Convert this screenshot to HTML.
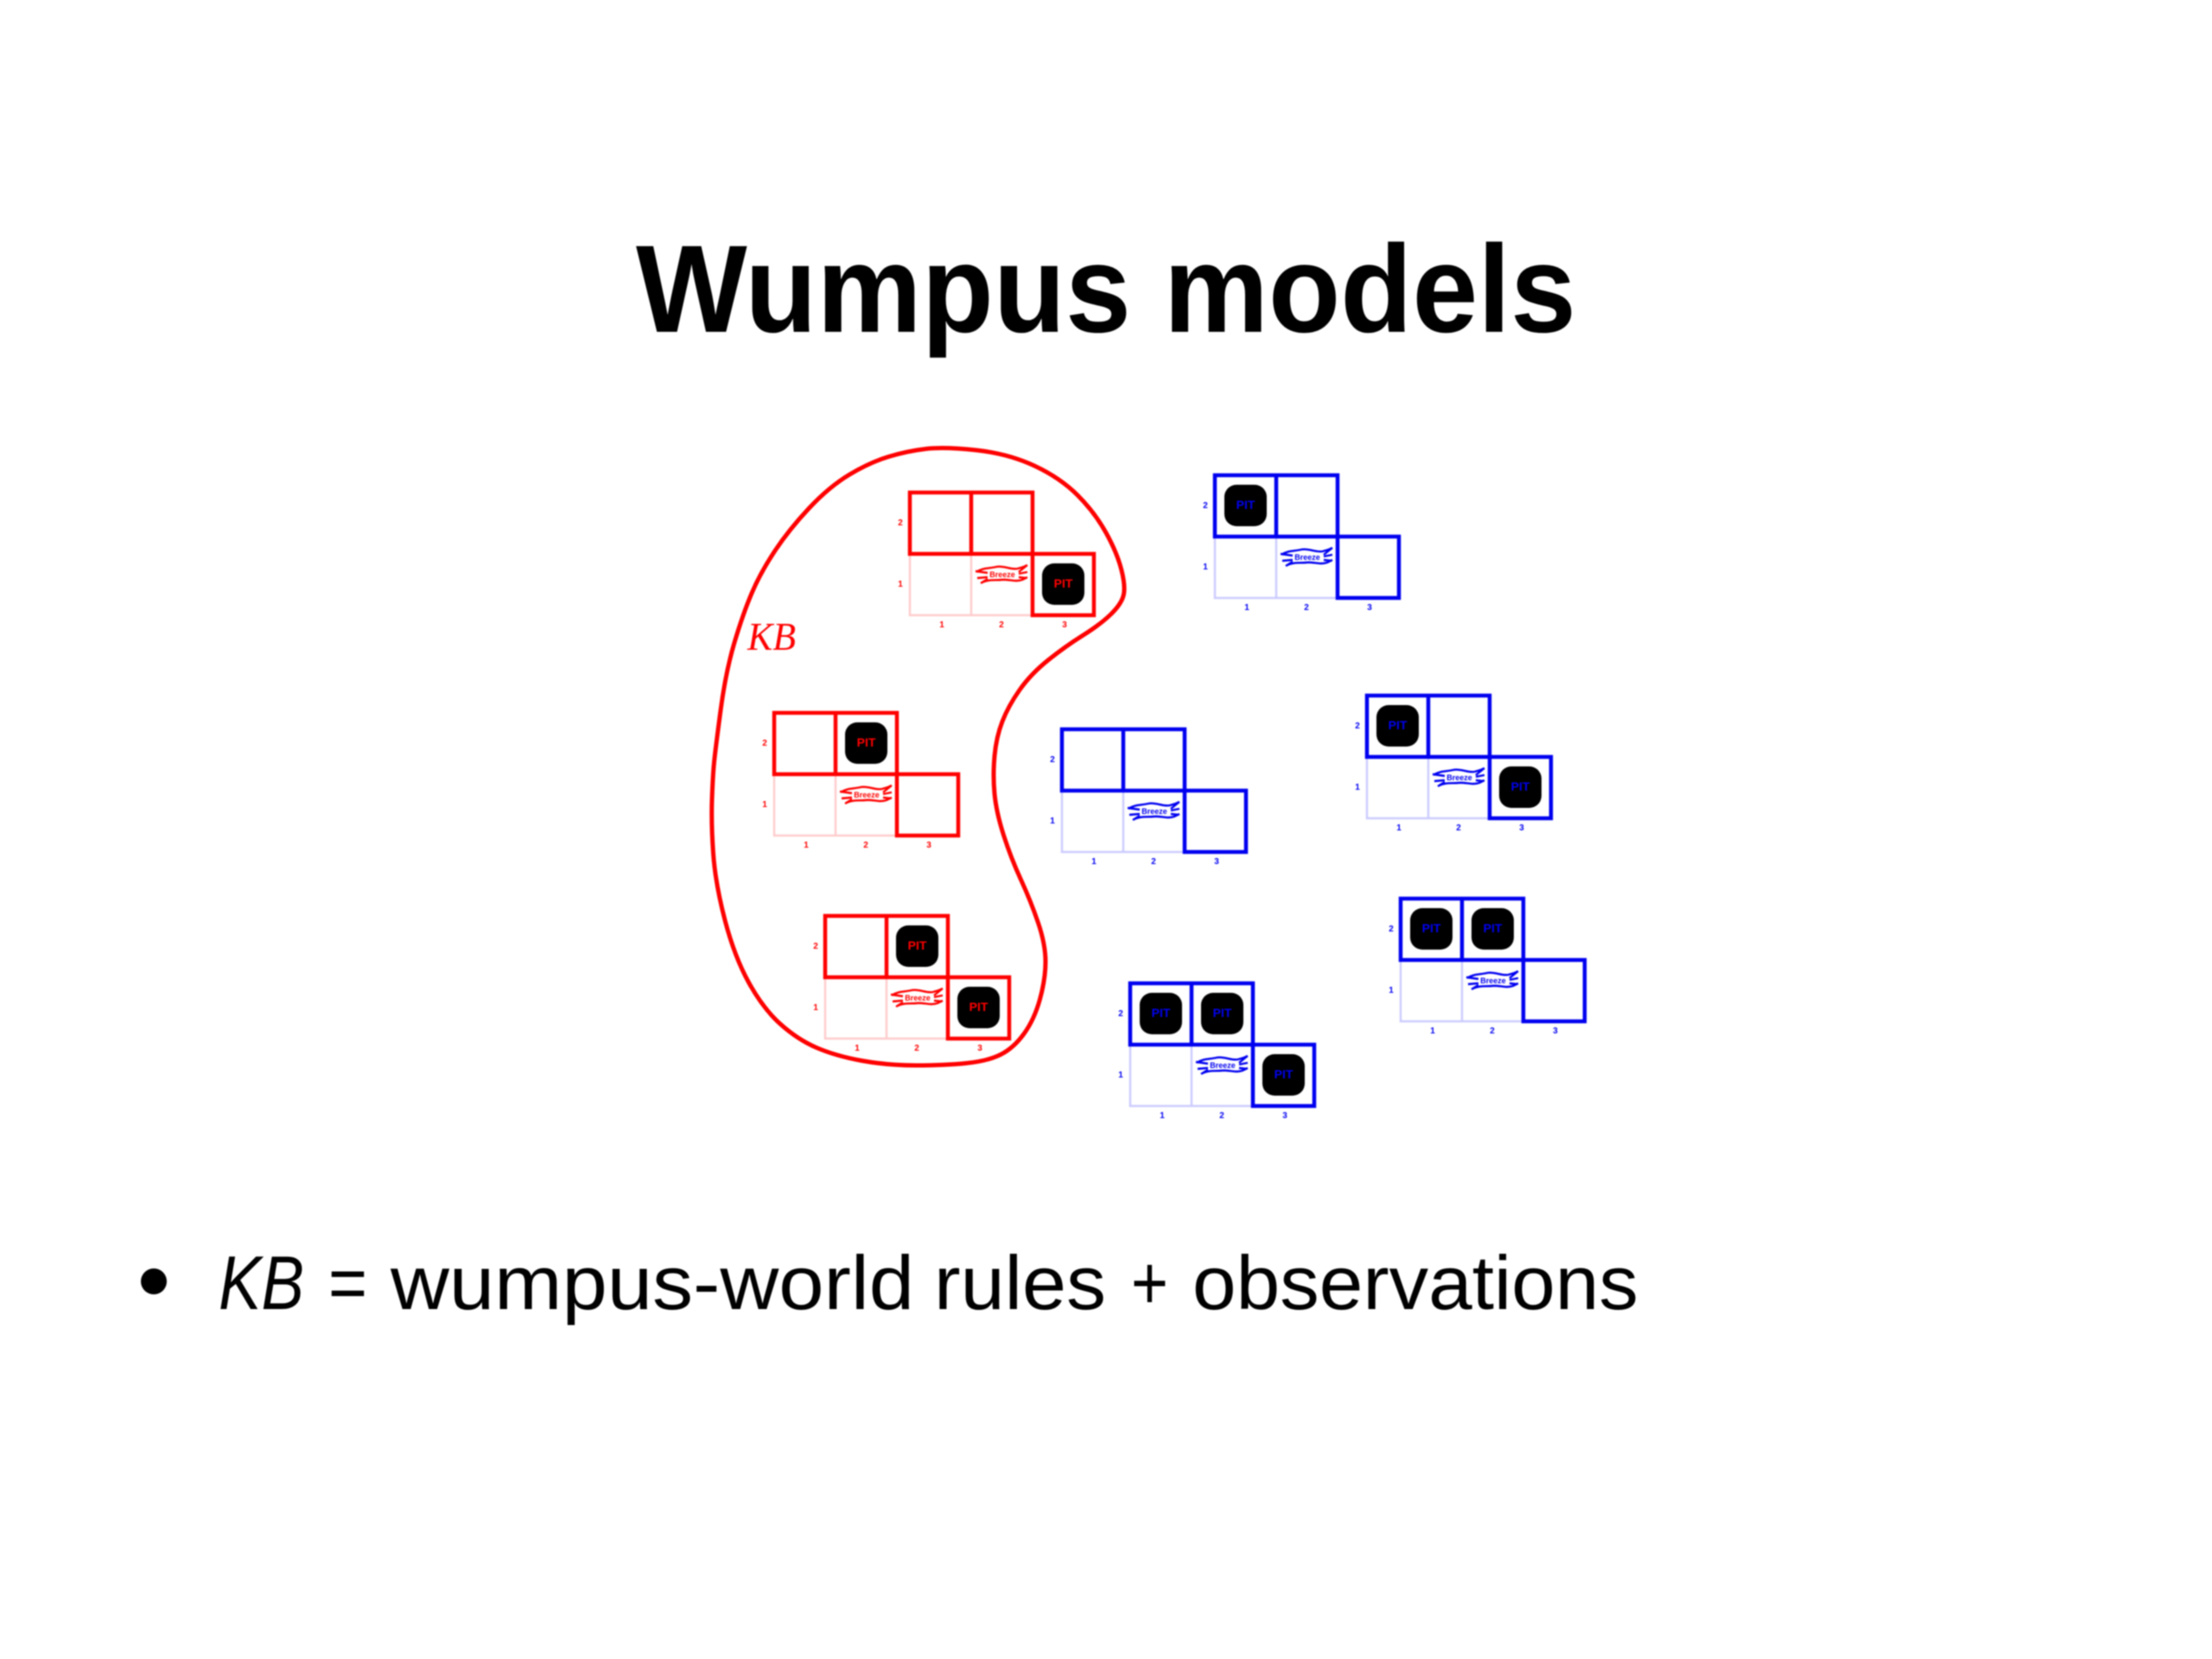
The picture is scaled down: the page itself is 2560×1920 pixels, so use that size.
<!DOCTYPE html>
<html><head><meta charset="utf-8"><style>
html,body{margin:0;padding:0;background:#fff}
svg{display:block;filter:blur(.8px)}
.r{color:#f00;--p:#fcc}
.b{color:#0000f0;--p:#ccf}
.thin{fill:none;stroke:var(--p);stroke-width:2.5}
.bold{fill:none;stroke:currentColor;stroke-width:4.5}
.pit{fill:#000;stroke:none}
.pt{fill:currentColor;font:bold 14px "Liberation Sans",sans-serif;text-anchor:middle}
.lb{fill:currentColor;font:bold 10px "Liberation Sans",sans-serif;text-anchor:middle}
.br{fill:none;stroke:currentColor;stroke-width:2.4}
.bt{fill:currentColor;font:bold 9px "Liberation Sans",sans-serif;text-anchor:middle}
.bu{font:88px "Liberation Sans",sans-serif;fill:#000}
</style></head><body>
<svg width="2560" height="1920" viewBox="0 0 2560 1920" xmlns="http://www.w3.org/2000/svg">
<rect width="2560" height="1920" fill="#fff"/>
<text x="736" y="384" textLength="1088" lengthAdjust="spacingAndGlyphs" style="font:bold 144px 'Liberation Sans',sans-serif" fill="#000">Wumpus models</text>
<circle cx="178" cy="1483" r="15" fill="#000"/>
<text x="253" y="1515" textLength="99" lengthAdjust="spacingAndGlyphs" style="font:italic 88px 'Liberation Sans',sans-serif" fill="#000">KB</text>
<text class="bu" x="380" y="1515" textLength="45" lengthAdjust="spacingAndGlyphs">=</text>
<text class="bu" x="452" y="1515" textLength="606" lengthAdjust="spacingAndGlyphs">wumpus-world</text>
<text class="bu" x="1081" y="1515" textLength="199" lengthAdjust="spacingAndGlyphs">rules</text>
<text class="bu" x="1309" y="1515" textLength="43" lengthAdjust="spacingAndGlyphs">+</text>
<text class="bu" x="1380" y="1515" textLength="516" lengthAdjust="spacingAndGlyphs">observations</text>
<path fill="none" stroke="#f00" stroke-width="5" d="M1071.500 519.500Q1093 517 1130 521Q1167 525 1197 539Q1227 553 1247 573Q1267 593 1280 616.500Q1293 640 1298 660Q1303 680 1300 690Q1297 700 1285 711.500Q1273 723 1253 735.500Q1233 748 1213 764Q1193 780 1180 798.500Q1167 817 1160 835Q1153 853 1151 875Q1149 897 1151 918.500Q1153 940 1161.500 966.500Q1170 993 1181.500 1018Q1193 1043 1201.500 1068Q1210 1093 1210 1113Q1210 1133 1203.500 1156.500Q1197 1180 1185 1196.500Q1173 1213 1158 1220.500Q1143 1228 1118 1230.500Q1093 1233 1060 1233Q1027 1233 997 1227.500Q967 1222 945 1212.500Q923 1203 903 1185Q883 1167 866.500 1137Q850 1107 839 1065Q828 1023 825.500 988Q823 953 824 925Q825 897 826.500 882Q828 867 834 822Q840 777 850 743.500Q860 710 870 686.500Q880 663 896.500 638Q913 613 936.500 588Q960 563 983.500 549Q1007 535 1028.500 528.500Q1050 522 1071.500 519.500Z"/>
<text x="865" y="752" textLength="56" lengthAdjust="spacingAndGlyphs" style="font:italic 46px 'Liberation Serif',serif" fill="#f00">KB</text>

<!-- red 1 -->
<g class="r" transform="translate(1053 570)">
<path class="thin" d="M0 71V142H142M71 71V142"/>
<path class="bold" d="M0 0H142V71H0ZM71 0V71M142 71H213V142H142Z"/>
<path class="br" d="M77 92C84 87 92 88 100 86S118 90 125 88S132 86 136 84M82 105C90 100 98 102 106 101S122 104 130 101L136 98M76 91L90 93M78 99L90 98M82 105L90 100M136 84L126 92M136 92L126 94M135 99L126 98"/>
<text class="bt" x="107" y="98">Breeze</text>
<rect class="pit" x="153" y="82" width="49" height="48" rx="14"/><text class="pt" x="177.500" y="110">PIT</text>
<text class="lb" x="-11" y="38">2</text><text class="lb" x="-11" y="109">1</text>
<text class="lb" x="37" y="156">1</text><text class="lb" x="106" y="156">2</text><text class="lb" x="179" y="156">3</text>
</g>
<!-- red 2 -->
<g class="r" transform="translate(896 825)">
<path class="thin" d="M0 71V142H142M71 71V142"/>
<path class="bold" d="M0 0H142V71H0ZM71 0V71M142 71H213V142H142Z"/>
<path class="br" d="M77 92C84 87 92 88 100 86S118 90 125 88S132 86 136 84M82 105C90 100 98 102 106 101S122 104 130 101L136 98M76 91L90 93M78 99L90 98M82 105L90 100M136 84L126 92M136 92L126 94M135 99L126 98"/>
<text class="bt" x="107" y="98">Breeze</text>
<rect class="pit" x="82" y="11" width="49" height="48" rx="14"/><text class="pt" x="106.500" y="39">PIT</text>
<text class="lb" x="-11" y="38">2</text><text class="lb" x="-11" y="109">1</text>
<text class="lb" x="37" y="156">1</text><text class="lb" x="106" y="156">2</text><text class="lb" x="179" y="156">3</text>
</g>
<!-- red 3 -->
<g class="r" transform="translate(955 1060)">
<path class="thin" d="M0 71V142H142M71 71V142"/>
<path class="bold" d="M0 0H142V71H0ZM71 0V71M142 71H213V142H142Z"/>
<path class="br" d="M77 92C84 87 92 88 100 86S118 90 125 88S132 86 136 84M82 105C90 100 98 102 106 101S122 104 130 101L136 98M76 91L90 93M78 99L90 98M82 105L90 100M136 84L126 92M136 92L126 94M135 99L126 98"/>
<text class="bt" x="107" y="98">Breeze</text>
<rect class="pit" x="82" y="11" width="49" height="48" rx="14"/><text class="pt" x="106.500" y="39">PIT</text>
<rect class="pit" x="153" y="82" width="49" height="48" rx="14"/><text class="pt" x="177.500" y="110">PIT</text>
<text class="lb" x="-11" y="38">2</text><text class="lb" x="-11" y="109">1</text>
<text class="lb" x="37" y="156">1</text><text class="lb" x="106" y="156">2</text><text class="lb" x="179" y="156">3</text>
</g>
<!-- blue 1 -->
<g class="b" transform="translate(1406 550)">
<path class="thin" d="M0 71V142H142M71 71V142"/>
<path class="bold" d="M0 0H142V71H0ZM71 0V71M142 71H213V142H142Z"/>
<path class="br" d="M77 92C84 87 92 88 100 86S118 90 125 88S132 86 136 84M82 105C90 100 98 102 106 101S122 104 130 101L136 98M76 91L90 93M78 99L90 98M82 105L90 100M136 84L126 92M136 92L126 94M135 99L126 98"/>
<text class="bt" x="107" y="98">Breeze</text>
<rect class="pit" x="11" y="11" width="49" height="48" rx="14"/><text class="pt" x="35.500" y="39">PIT</text>
<text class="lb" x="-11" y="38">2</text><text class="lb" x="-11" y="109">1</text>
<text class="lb" x="37" y="156">1</text><text class="lb" x="106" y="156">2</text><text class="lb" x="179" y="156">3</text>
</g>
<!-- blue 2 -->
<g class="b" transform="translate(1229 844)">
<path class="thin" d="M0 71V142H142M71 71V142"/>
<path class="bold" d="M0 0H142V71H0ZM71 0V71M142 71H213V142H142Z"/>
<path class="br" d="M77 92C84 87 92 88 100 86S118 90 125 88S132 86 136 84M82 105C90 100 98 102 106 101S122 104 130 101L136 98M76 91L90 93M78 99L90 98M82 105L90 100M136 84L126 92M136 92L126 94M135 99L126 98"/>
<text class="bt" x="107" y="98">Breeze</text>
<text class="lb" x="-11" y="38">2</text><text class="lb" x="-11" y="109">1</text>
<text class="lb" x="37" y="156">1</text><text class="lb" x="106" y="156">2</text><text class="lb" x="179" y="156">3</text>
</g>
<!-- blue 3 -->
<g class="b" transform="translate(1582 805)">
<path class="thin" d="M0 71V142H142M71 71V142"/>
<path class="bold" d="M0 0H142V71H0ZM71 0V71M142 71H213V142H142Z"/>
<path class="br" d="M77 92C84 87 92 88 100 86S118 90 125 88S132 86 136 84M82 105C90 100 98 102 106 101S122 104 130 101L136 98M76 91L90 93M78 99L90 98M82 105L90 100M136 84L126 92M136 92L126 94M135 99L126 98"/>
<text class="bt" x="107" y="98">Breeze</text>
<rect class="pit" x="11" y="11" width="49" height="48" rx="14"/><text class="pt" x="35.500" y="39">PIT</text>
<rect class="pit" x="153" y="82" width="49" height="48" rx="14"/><text class="pt" x="177.500" y="110">PIT</text>
<text class="lb" x="-11" y="38">2</text><text class="lb" x="-11" y="109">1</text>
<text class="lb" x="37" y="156">1</text><text class="lb" x="106" y="156">2</text><text class="lb" x="179" y="156">3</text>
</g>
<!-- blue 4 -->
<g class="b" transform="translate(1621 1040)">
<path class="thin" d="M0 71V142H142M71 71V142"/>
<path class="bold" d="M0 0H142V71H0ZM71 0V71M142 71H213V142H142Z"/>
<path class="br" d="M77 92C84 87 92 88 100 86S118 90 125 88S132 86 136 84M82 105C90 100 98 102 106 101S122 104 130 101L136 98M76 91L90 93M78 99L90 98M82 105L90 100M136 84L126 92M136 92L126 94M135 99L126 98"/>
<text class="bt" x="107" y="98">Breeze</text>
<rect class="pit" x="11" y="11" width="49" height="48" rx="14"/><text class="pt" x="35.500" y="39">PIT</text>
<rect class="pit" x="82" y="11" width="49" height="48" rx="14"/><text class="pt" x="106.500" y="39">PIT</text>
<text class="lb" x="-11" y="38">2</text><text class="lb" x="-11" y="109">1</text>
<text class="lb" x="37" y="156">1</text><text class="lb" x="106" y="156">2</text><text class="lb" x="179" y="156">3</text>
</g>
<!-- blue 5 -->
<g class="b" transform="translate(1308 1138)">
<path class="thin" d="M0 71V142H142M71 71V142"/>
<path class="bold" d="M0 0H142V71H0ZM71 0V71M142 71H213V142H142Z"/>
<path class="br" d="M77 92C84 87 92 88 100 86S118 90 125 88S132 86 136 84M82 105C90 100 98 102 106 101S122 104 130 101L136 98M76 91L90 93M78 99L90 98M82 105L90 100M136 84L126 92M136 92L126 94M135 99L126 98"/>
<text class="bt" x="107" y="98">Breeze</text>
<rect class="pit" x="11" y="11" width="49" height="48" rx="14"/><text class="pt" x="35.500" y="39">PIT</text>
<rect class="pit" x="82" y="11" width="49" height="48" rx="14"/><text class="pt" x="106.500" y="39">PIT</text>
<rect class="pit" x="153" y="82" width="49" height="48" rx="14"/><text class="pt" x="177.500" y="110">PIT</text>
<text class="lb" x="-11" y="38">2</text><text class="lb" x="-11" y="109">1</text>
<text class="lb" x="37" y="156">1</text><text class="lb" x="106" y="156">2</text><text class="lb" x="179" y="156">3</text>
</g>
</svg>
</body></html>
